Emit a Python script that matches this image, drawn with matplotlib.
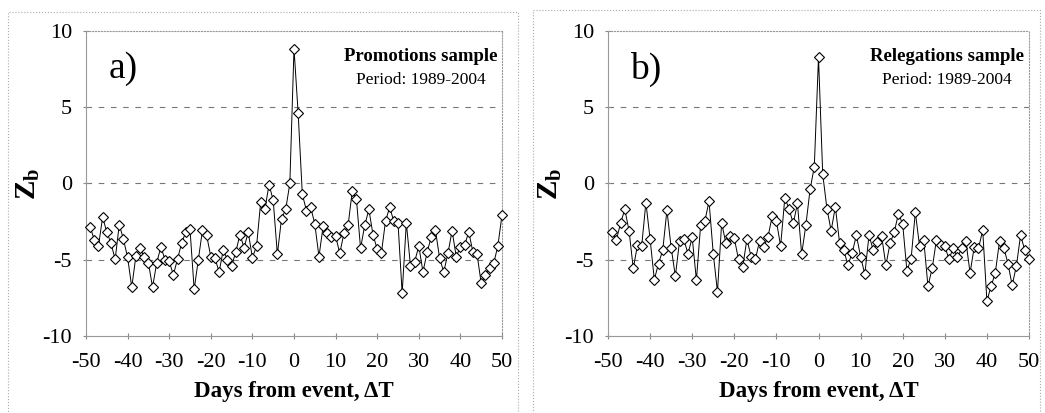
import matplotlib
matplotlib.use('Agg')
import matplotlib.pyplot as plt
from matplotlib.patches import Rectangle

plt.rcParams['font.family'] = ['Liberation Serif', 'DejaVu Serif']
plt.rcParams['mathtext.fontset'] = 'custom'
plt.rcParams['mathtext.rm'] = 'Liberation Serif'
plt.rcParams['mathtext.bf'] = 'Liberation Serif:bold'
plt.rcParams['axes.unicode_minus'] = False

days = list(range(-49, 51))

# promotions sample, z_b per day
z_prom = [-2.84, -3.7, -4.1, -2.2, -3.2, -3.9, -4.98, -2.7, -3.65, -4.85,
          -6.8, -4.75, -4.2, -4.85, -5.2, -6.8, -5.2, -4.15, -5.0, -5.1,
          -6.0, -4.95, -3.9, -3.17, -3.0, -6.95, -5.0, -3.05, -3.4, -4.8,
          -4.9, -5.8, -4.35, -5.0, -5.4, -4.5, -3.35, -4.2, -3.2, -4.87,
          -4.1, -1.2, -1.7, -0.07, -1.1, -4.65, -2.3, -1.7, 0.0,
          8.85,
          4.6, -0.71, -1.78, -1.55, -2.65, -4.8, -2.79, -3.27, -3.5, -3.45,
          -4.58, -3.27, -2.75, -0.5, -1.02, -4.25, -2.74, -1.7, -3.38, -4.3,
          -4.58, -2.46, -1.56, -2.48, -2.57, -7.2, -2.57, -5.4, -5.13, -4.1,
          -5.8, -4.5, -3.5, -3.05, -4.9, -5.8, -4.58, -3.1, -4.8, -4.14,
          -4.05, -3.18, -4.47, -4.62, -6.55, -6.0, -5.56, -5.24, -4.1, -2.07]

# relegations sample
z_rel = [-3.2, -3.7, -2.58, -1.7, -3.1, -5.57, -4.04, -4.1, -1.25, -3.65,
         -6.3, -5.25, -4.37, -1.75, -4.2, -6.08, -3.76, -3.67, -4.6, -3.54,
         -6.34, -2.73, -2.47, -1.16, -4.6, -7.1, -2.58, -3.93, -3.41, -3.6,
         -4.98, -5.46, -3.65, -4.8, -4.98, -3.76, -4.15, -3.5, -2.14, -2.47,
         -4.1, -0.94, -1.66, -2.62, -1.31, -4.63, -2.73, -0.39, 1.09,
         8.3,
         0.61, -1.64, -3.1, -1.53, -3.87, -4.37, -5.36, -4.55, -3.39, -4.8,
         -5.95, -3.39, -4.37, -3.83, -3.45, -5.36, -3.93, -3.17, -1.97, -2.67,
         -5.73, -4.92, -1.88, -4.1, -3.72, -6.73, -5.57, -3.72, -4.0, -4.1,
         -4.98, -4.2, -4.85, -4.26, -3.76, -5.86, -4.15, -4.26, -3.06, -7.7,
         -6.73, -5.86, -3.76, -4.2, -5.25, -6.67, -5.42, -3.39, -4.37, -4.98]

panels = [('a)', 'Promotions sample', z_prom),
          ('b)', 'Relegations sample', z_rel)]
x_ticks = [-50, -40, -30, -20, -10, 0, 10, 20, 30, 40, 50]
y_ticks = [-10, -5, 0, 5, 10]

fig = plt.figure(figsize=(10.45, 4.13), dpi=100)

# outer chart-area frames
fig.patches.append(Rectangle((8/1045, -0.01), 510/1045, 1 - 12/413 + 0.01,
                             transform=fig.transFigure, fill=False,
                             ec='#aaaaaa', lw=0.8, ls=':'))
fig.patches.append(Rectangle((533/1045, -0.01), 507/1045, 1 - 10/413 + 0.01,
                             transform=fig.transFigure, fill=False,
                             ec='#aaaaaa', lw=0.8, ls=':'))

axes_pos = [[86/1045, 77/413, 416/1045, 305/413],
            [608/1045, 77/413, 421/1045, 305/413]]

for pos, (tag, name, z) in zip(axes_pos, panels):
    ax = fig.add_axes(pos)
    for yv in [-5, 0, 5]:
        ax.axhline(yv, color='#777777', lw=0.8, ls=(0, (5, 6)), zorder=1)
    ax.plot(days, z, color='black', lw=0.7, marker='D', ms=5.5,
            mfc='white', mec='black', mew=0.8, zorder=3, clip_on=False)
    ax.set_xlim(-50, 50)
    ax.set_ylim(-10, 10)
    ax.set_xticks(x_ticks)
    ax.set_yticks(y_ticks)
    ax.tick_params(labelsize=16, length=4, width=0.8, color='#888888',
                   direction='inout')
    ax.tick_params(axis='x', pad=10)
    ax.tick_params(axis='y', pad=8)
    for s in ax.spines.values():
        s.set_color('#999999')
        s.set_linewidth(0.8)
        s.set_linestyle(':')
    ax.spines['left'].set_linestyle('-')
    ax.spines['bottom'].set_linestyle('-')
    ax.set_xlabel('Days from event, ΔT', fontsize=16.5, fontweight='bold',
                  labelpad=7)
    ax.set_ylabel(r'$\mathbf{Z_b}$', fontsize=21, labelpad=0)
    ax.text(0.09, 0.875, tag, transform=ax.transAxes, fontsize=27,
            ha='center', va='center')
    ax.text(0.805, 0.915, name, transform=ax.transAxes, fontsize=13.5,
            fontweight='bold', ha='center', va='center')
    ax.text(0.805, 0.838, 'Period: 1989-2004', transform=ax.transAxes,
            fontsize=12.5, ha='center', va='center')

fig.savefig('out.png', dpi=100)
